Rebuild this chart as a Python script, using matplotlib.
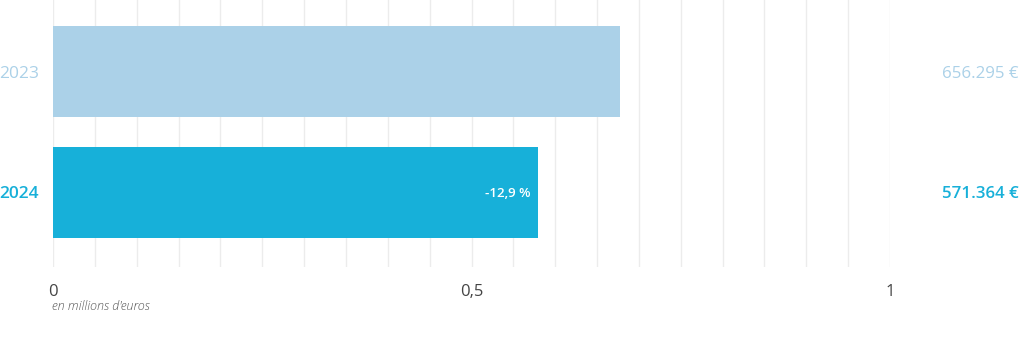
import matplotlib
matplotlib.use("Agg")
import matplotlib.pyplot as plt
import numpy as np

plt.rcParams['font.family'] = ['Open Sans', 'DejaVu Sans']

years = ["2023", "2024"]
values = [0.677, 0.580]          # bar lengths (millions of euros) as drawn
value_labels = ["656.295 €", "571.364 €"]
change_label = "-12,9 %"
colors = ["#abd1e8", "#17b0d9"]
tick_values = [0, 0.5, 1]
tick_labels = ["0", "0,5", "1"]
unit_label = "en millions d'euros"

fig = plt.figure(figsize=(10.24, 3.44), dpi=100)
ax = fig.add_axes([53/1024, 77/344, 837/1024, 267/344])

ypos = np.arange(len(years))
ax.barh(ypos, values, height=0.755, color=colors, zorder=2)

for x in np.arange(0, 1.0001, 0.05):
    ax.axvline(x, color="#ececec", lw=1, zorder=1)

ax.set_xlim(0, 1.0)
ax.set_ylim(1.622, -0.593)
for s in ax.spines.values():
    s.set_visible(False)
ax.set_yticks([])
ax.set_xticks(tick_values)
ax.set_xticklabels(tick_labels, fontsize=12, color="#444444")
ax.tick_params(axis='x', length=0, pad=12)

weights = ["normal", "semibold"]
for i, (y, c) in enumerate(zip(years, colors)):
    fig.text(39/1024, 1 - (73.5 + i*120.5)/344, y, ha="right", va="center",
             fontsize=12.5, color=c, fontweight=weights[i])
    fig.text(1019/1024, 1 - (73.5 + i*120.5)/344, value_labels[i], ha="right",
             va="center", fontsize=12.2, color=c, fontweight=weights[i])

ax.text(values[1] - 0.01, 1.01, change_label, ha="right", va="center",
        fontsize=9.5, color="white", fontweight="semibold", zorder=3)

fig.text(52/1024, 1 - 307/344, unit_label, ha="left", va="center",
         fontsize=9, color="#555555", style="italic", fontweight="light")

fig.savefig("out.png", dpi=100)
